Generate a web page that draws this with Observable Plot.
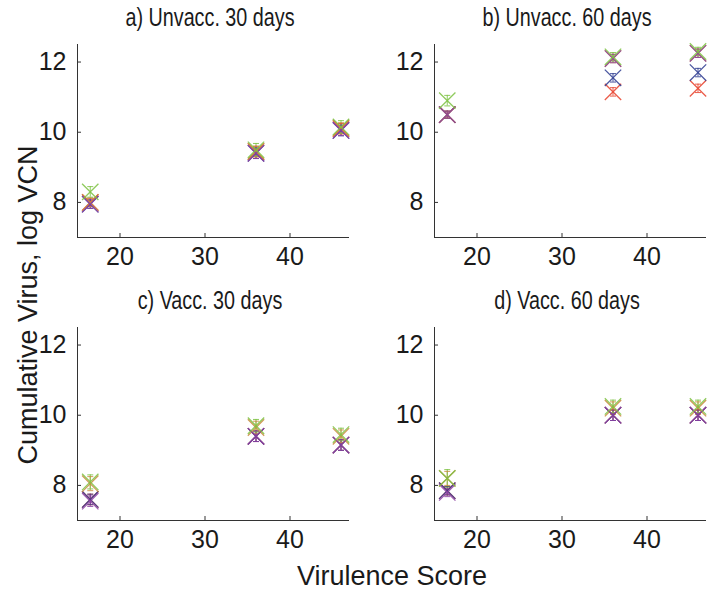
<!DOCTYPE html>
<html><head><meta charset="utf-8">
<script src="https://cdn.jsdelivr.net/npm/d3@7"></script>
<script src="https://cdn.jsdelivr.net/npm/@observablehq/plot@0.6"></script>
<style>
body{margin:0;background:#fff;}
#wrap{position:relative;width:722px;height:594px;font-family:"Liberation Sans",Arial,Helvetica,sans-serif;color:#1a1a1a;overflow:hidden;}
.panel{position:absolute;}
.title{position:absolute;font-size:26px;white-space:nowrap;transform:translateX(-50%) scaleX(0.76);line-height:1;}
.lab{position:absolute;white-space:nowrap;line-height:1;}
</style></head><body><div id="wrap"></div>
<script>
// ---- data ----
const virulence = [16.5, 36, 46];
const xTicks = [20, 30, 40];
const yTicks = [8, 10, 12];
const seriesNames = ["Series 1", "Series 2", "Series 3", "Series 4", "Series 5"];
const seriesColors = ["#e8412c", "#2b3a8f", "#c98a3c", "#8c3fa3", "#7cc242"];
const panelTitles = ["a) Unvacc. 30 days", "b) Unvacc. 60 days", "c) Vacc. 30 days", "d) Vacc. 60 days"];

// mean cumulative virus (log VCN) per series at each virulence score
const unvacc30 = [[8.0, 9.45, 10.1], [7.95, 9.4, 10.05], [8.0, 9.45, 10.12], [7.95, 9.4, 10.05], [8.3, 9.5, 10.15]];
const unvacc60 = [[10.5, 11.15, 11.25], [10.5, 11.55, 11.7], [10.5, 12.1, 12.25], [10.5, 12.1, 12.25], [10.9, 12.15, 12.3]];
const vacc30   = [[7.6, 9.4, 9.15], [7.6, 9.4, 9.15], [8.05, 9.65, 9.4], [7.55, 9.4, 9.15], [8.1, 9.7, 9.45]];
const vacc60   = [[7.85, 10.0, 10.0], [7.85, 10.0, 10.0], [8.2, 10.2, 10.2], [7.8, 10.0, 10.0], [8.2, 10.25, 10.25]];
// error bar half-widths
const unvacc30Err = [[0.12, 0.15, 0.15], [0.12, 0.15, 0.15], [0.12, 0.15, 0.15], [0.12, 0.15, 0.15], [0.15, 0.18, 0.18]];
const unvacc60Err = [[0.1, 0.12, 0.12], [0.1, 0.12, 0.12], [0.1, 0.12, 0.12], [0.1, 0.12, 0.12], [0.15, 0.12, 0.12]];
const vacc30Err   = [[0.15, 0.15, 0.15], [0.15, 0.15, 0.15], [0.2, 0.18, 0.18], [0.15, 0.15, 0.15], [0.2, 0.18, 0.18]];
const vacc60Err   = [[0.12, 0.15, 0.15], [0.12, 0.15, 0.15], [0.2, 0.18, 0.18], [0.12, 0.15, 0.15], [0.25, 0.18, 0.18]];

const panelValues = [unvacc30, unvacc60, vacc30, vacc60];
const panelErrors = [unvacc30Err, unvacc60Err, vacc30Err, vacc60Err];

// ---- layout ----
const ML = 45, MR = 10, MT = 8, MB = 40;
const PW = 272, PH = 193;
const colLeft = [77, 434], rowTop = [44, 327];
const font = '"Liberation Sans",Arial,Helvetica,sans-serif';

const capSymbol = {draw(ctx, size) { ctx.moveTo(-3, 0); ctx.lineTo(3, 0); }};

const wrap = document.getElementById("wrap");

panelValues.forEach((vals, p) => {
  const rows = [];
  vals.forEach((arr, s) => arr.forEach((v, i) => rows.push({series: seriesNames[s], x: virulence[i], y: v, err: panelErrors[p][s][i]})));
  const col = p % 2, row = Math.floor(p / 2);
  const chart = Plot.plot({
    width: PW + ML + MR, height: PH + MT + MB,
    marginLeft: ML, marginRight: MR, marginTop: MT, marginBottom: MB,
    x: {domain: [15, 47], label: null},
    y: {domain: [7, 12.5], label: null},
    color: {domain: seriesNames, range: seriesColors},
    style: {fontFamily: font, fontSize: "25px", color: "#1a1a1a", background: "transparent", overflow: "visible"},
    marks: [
      Plot.ruleX(rows, {x: "x", y1: d => d.y - d.err, y2: d => d.y + d.err, stroke: "series", strokeWidth: 1, strokeOpacity: 0.85}),
      Plot.dot(rows, {x: "x", y: d => d.y + d.err, symbol: capSymbol, r: 3, stroke: "series", strokeWidth: 1, strokeOpacity: 0.85}),
      Plot.dot(rows, {x: "x", y: d => d.y - d.err, symbol: capSymbol, r: 3, stroke: "series", strokeWidth: 1, strokeOpacity: 0.85}),
      Plot.dot(rows, {x: "x", y: "y", symbol: "times", r: 7.5, stroke: "series", strokeWidth: 1.3, strokeOpacity: 0.85}),
      Plot.axisX(xTicks, {tickSize: -4, text: null, label: null, stroke: "#333"}),
      Plot.axisX(xTicks, {tickSize: 0, tickPadding: 10, label: null, fontSize: 25}),
      Plot.axisY(yTicks, {tickSize: -4, text: null, label: null, stroke: "#333"}),
      Plot.axisY(yTicks, {tickSize: 0, tickPadding: 11, label: null, fontSize: 25}),
      Plot.ruleX([15], {stroke: "#333", strokeWidth: 1}),
      Plot.ruleY([7], {stroke: "#333", strokeWidth: 1})
    ]
  });
  chart.classList.add("panel");
  chart.style.left = (colLeft[col] - ML) + "px";
  chart.style.top = (rowTop[row] - MT) + "px";
  wrap.appendChild(chart);

  const t = document.createElement("div");
  t.className = "title";
  t.textContent = panelTitles[p];
  t.style.left = (colLeft[col] + PW / 2 - 3) + "px";
  t.style.top = (rowTop[row] - 40) + "px";
  wrap.appendChild(t);
});

const yl = document.createElement("div");
yl.className = "lab";
yl.textContent = "Cumulative Virus, log VCN";
yl.style.fontSize = "27px";
yl.style.left = "28px"; yl.style.top = "305px";
yl.style.transform = "translate(-50%,-50%) rotate(-90deg)";
wrap.appendChild(yl);

const xl = document.createElement("div");
xl.className = "lab";
xl.textContent = "Virulence Score";
xl.style.fontSize = "27px";
xl.style.left = "392px"; xl.style.top = "576px";
xl.style.transform = "translate(-50%,-50%)";
wrap.appendChild(xl);
</script></body></html>
